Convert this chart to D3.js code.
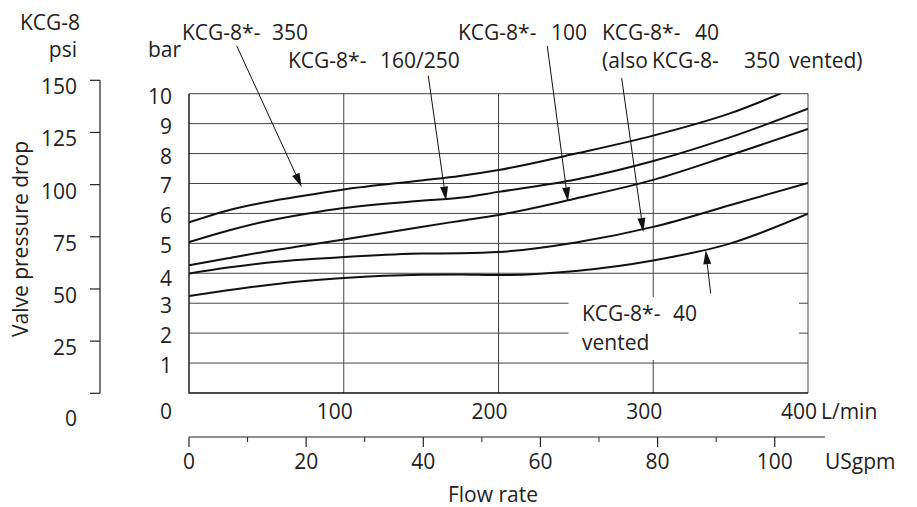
<!DOCTYPE html>
<html>
  <head>
    <meta charset="utf-8" />
    <title>KCG-8 pressure drop</title>
    <script src="https://d3js.org/d3.v7.min.js"></script>
    <style>
      body { margin: 0; background: #fff; }
      text { font-family: "Open Sans", sans-serif; font-size: 21px; fill: #222; white-space: pre; }
    </style>
  </head>
  <body>
    <svg width="917" height="507" id="chart"></svg>

    <script>
    // flow rate points (L/min) shared by all curves
    var flowLmin = [0, 25, 50, 75, 100, 150, 175, 200, 250, 300, 350, 400];

    // pressure drop in bar
    var kcg350    = [5.70, 6.10, 6.38, 6.60, 6.80, 7.10, 7.25, 7.45, 8.00, 8.60, 9.35, 10.40];
    var kcg160250 = [5.04, 5.42, 5.74, 5.98, 6.18, 6.42, 6.52, 6.72, 7.13, 7.75, 8.55, 9.50];
    var kcg100    = [4.27, 4.50, 4.73, 4.93, 5.13, 5.55, 5.75, 5.95, 6.50, 7.12, 7.95, 8.82];
    var kcg40     = [3.99, 4.19, 4.35, 4.46, 4.54, 4.66, 4.67, 4.71, 5.03, 5.55, 6.28, 7.02];
    var kcg40vent = [3.24, 3.43, 3.60, 3.74, 3.84, 3.95, 3.96, 3.94, 4.08, 4.43, 5.00, 5.99];

    // tick labels
    var barTicks = [1, 2, 3, 4, 5, 6, 7, 8, 9, 10];
    var psiTicks = [0, 25, 50, 75, 100, 125, 150];
    var lminTicks = [0, 100, 200, 300, 400];
    var gpmMajor = [0, 20, 40, 60, 80, 100];
    var gpmMinor = [10, 30, 50, 70, 90];

    // arrows: [flow L/min, bar] from tail to head
    var arrows = [
        { from: [30.8, 11.6], to: [72.8, 6.88] },
        { from: [154.6, 10.6], to: [166.1, 6.43] },
        { from: [231.5, 11.6], to: [244.9, 6.40] },
        { from: [279.6, 10.52], to: [293.6, 5.38] },
        { from: [337.1, 3.32], to: [333.9, 4.77] }
    ];

    var svg = d3.select("#chart");

    var x = d3.scaleLinear().domain([0, 400]).range([189, 808]);
    var y = d3.scaleLinear().domain([0, 10]).range([393, 93.7]);
    var psi = d3.scaleLinear().domain([0, 150]).range([393.3, 80.3]);
    var LPM_PER_GPM = 3.785;
    var gpmX = function(g) { return x(g * LPM_PER_GPM); };

    var gridColor = "#444";

    //horizontal grid lines
    svg.append("g").selectAll("line")
        .data(barTicks)
        .enter().append("line")
        .attr("x1", x(0)).attr("x2", x(400))
        .attr("y1", d => y(d)).attr("y2", d => y(d))
        .style("stroke", gridColor).style("stroke-width", 1);

    //vertical grid lines
    svg.append("g").selectAll("line")
        .data([100, 200, 300, 400])
        .enter().append("line")
        .attr("x1", d => x(d)).attr("x2", d => x(d))
        .attr("y1", y(10)).attr("y2", y(0))
        .style("stroke", gridColor).style("stroke-width", 1);

    //left and bottom frame
    svg.append("path")
        .attr("d", "M" + x(0) + "," + y(10) + "V" + y(0) + "H" + x(400))
        .style("fill", "none").style("stroke", "#111").style("stroke-width", 1.4);

    //white box behind the vented label (breaks the grid)
    svg.append("rect")
        .attr("x", 568.5).attr("y", 297)
        .attr("width", 230.5).attr("height", 63)
        .style("fill", "#fff");

    //curves
    svg.append("clipPath").attr("id", "plotclip")
        .append("rect")
        .attr("x", x(0)).attr("y", y(10))
        .attr("width", x(400) - x(0)).attr("height", y(0) - y(10));

    var line = d3.line()
        .x(d => x(d[0]))
        .y(d => y(d[1]))
        .curve(d3.curveMonotoneX);

    var allSeries = [kcg350, kcg160250, kcg100, kcg40, kcg40vent];
    svg.append("g").attr("clip-path", "url(#plotclip)")
        .selectAll("path")
        .data(allSeries)
        .enter().append("path")
        .attr("d", s => line(flowLmin.map((f, i) => [f, s[i]])))
        .style("fill", "none").style("stroke", "#111").style("stroke-width", 2);

    //arrows
    var ag = svg.append("g");
    arrows.forEach(function(a) {
        var x1 = x(a.from[0]), y1 = y(a.from[1]);
        var x2 = x(a.to[0]), y2 = y(a.to[1]);
        var ang = Math.atan2(y2 - y1, x2 - x1);
        var len = 14, hw = 4;
        var bx = x2 - len * Math.cos(ang), by = y2 - len * Math.sin(ang);
        ag.append("line")
            .attr("x1", x1).attr("y1", y1).attr("x2", bx).attr("y2", by)
            .style("stroke", "#111").style("stroke-width", 1);
        var px = -Math.sin(ang) * hw, py = Math.cos(ang) * hw;
        ag.append("path")
            .attr("d", "M" + x2 + "," + y2 +
                "L" + (bx + px) + "," + (by + py) +
                "L" + (bx - px) + "," + (by - py) + "Z")
            .style("fill", "#111");
    });

    //bar labels
    svg.append("g").selectAll("text")
        .data(barTicks)
        .enter().append("text")
        .attr("x", 172)
        .attr("y", d => y(d) + (d === 4 ? 13 : 10))
        .attr("text-anchor", "end")
        .text(d => d);

    //psi axis
    svg.append("line")
        .attr("x1", 100).attr("x2", 100)
        .attr("y1", psi(150)).attr("y2", psi(0))
        .style("stroke", "#222").style("stroke-width", 1.2);
    svg.append("g").selectAll("line")
        .data(psiTicks)
        .enter().append("line")
        .attr("x1", 90).attr("x2", 100)
        .attr("y1", d => psi(d)).attr("y2", d => psi(d))
        .style("stroke", "#222").style("stroke-width", 1.2);
    svg.append("g").selectAll("text")
        .data(psiTicks)
        .enter().append("text")
        .attr("x", 77)
        .attr("y", d => psi(d) + (d === 0 ? 33 : 14))
        .attr("text-anchor", "end")
        .text(d => d);

    //L/min labels
    svg.append("g").selectAll("text")
        .data(lminTicks)
        .enter().append("text")
        .attr("x", d => d === 0 ? 172 : x(d) - 9)
        .attr("y", 419)
        .attr("text-anchor", d => d === 0 ? "end" : "middle")
        .text(d => d);
    svg.append("text").attr("x", 821).attr("y", 419).text("L/min");

    //USgpm axis
    svg.append("line")
        .attr("x1", gpmX(0)).attr("x2", 825)
        .attr("y1", 437).attr("y2", 437)
        .style("stroke", "#222").style("stroke-width", 1.2);
    svg.append("g").selectAll("line")
        .data(gpmMajor)
        .enter().append("line")
        .attr("x1", d => gpmX(d)).attr("x2", d => gpmX(d))
        .attr("y1", 437).attr("y2", 447)
        .style("stroke", "#222").style("stroke-width", 1.2);
    svg.append("g").selectAll("line")
        .data(gpmMinor)
        .enter().append("line")
        .attr("x1", d => gpmX(d)).attr("x2", d => gpmX(d))
        .attr("y1", 437).attr("y2", 442)
        .style("stroke", "#222").style("stroke-width", 1);
    svg.append("g").selectAll("text")
        .data(gpmMajor)
        .enter().append("text")
        .attr("x", d => gpmX(d))
        .attr("y", 469)
        .attr("text-anchor", "middle")
        .text(d => d);
    svg.append("text").attr("x", 825).attr("y", 469).text("USgpm");
    svg.append("text").attr("x", 493).attr("y", 502).attr("text-anchor", "middle").text("Flow rate");

    //axis titles
    svg.append("text").attr("x", 50).attr("y", 30).attr("text-anchor", "middle").text("KCG-8");
    svg.append("text").attr("x", 77).attr("y", 57).attr("text-anchor", "end").text("psi");
    svg.append("text").attr("x", 148).attr("y", 57).text("bar");
    svg.append("text")
        .attr("transform", "translate(28,239) rotate(-90)")
        .attr("text-anchor", "middle")
        .text("Valve pressure drop");

    //curve labels (pieces placed where the gaps are)
    function label(parts, yy) {
        var t = svg.append("text").attr("y", yy);
        parts.forEach(function(p) {
            t.append("tspan").attr("x", p[0]).text(p[1]);
        });
    }
    label([[182, "KCG-8*-"], [272, "350"]], 40);
    label([[288, "KCG-8*-"], [380, "160/250"]], 68);
    label([[458, "KCG-8*-"], [551, "100"]], 40);
    label([[602, "KCG-8*-"], [695, "40"]], 40);
    label([[602, "(also"], [652, "KCG-8-"], [744, "350"], [789, "vented)"]], 68);
    label([[582, "KCG-8*-"], [673, "40"]], 321);
    label([[582, "vented"]], 350);
    </script>
  </body>
</html>
